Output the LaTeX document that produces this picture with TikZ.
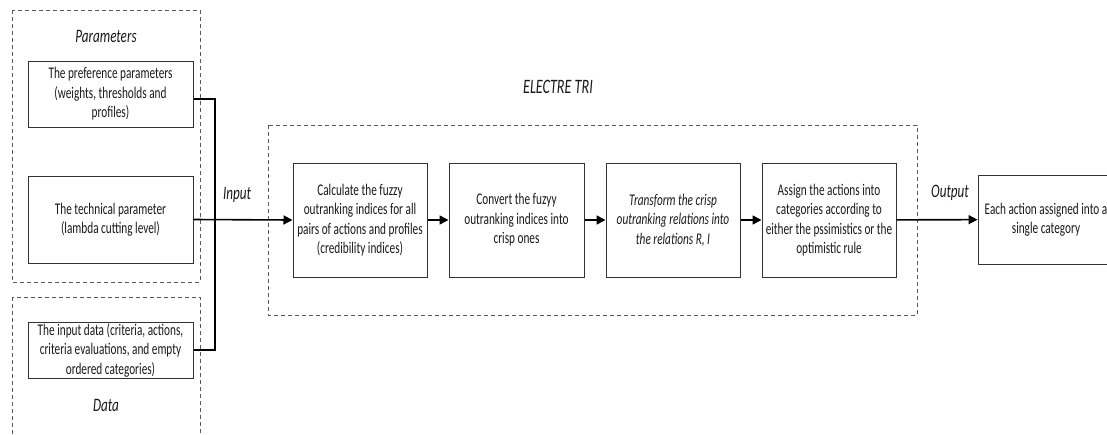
\documentclass[tikz,border=0pt]{standalone}
\usepackage{fontspec}
\setmainfont{Carlito}[FakeStretch=0.69]
\usetikzlibrary{arrows.meta}
\begin{document}
\begin{tikzpicture}[x=1pt,y=-1pt,
  stepbox/.style={draw=black!80, line width=1pt, align=center, inner sep=0pt,
    font=\fontsize{16.3}{19.5}\selectfont, text=black!90},
  group/.style={draw=black!65, dash pattern=on 4pt off 3pt, line width=0.8pt},
  lbl/.style={font=\fontsize{19}{22}\selectfont\itshape, text=black!90},
  flow/.style={line width=1.6pt, -{Triangle[length=9pt,width=9pt]}},
  link/.style={line width=1.6pt}]
\useasboundingbox (0,0) rectangle (1107,434);
\clip (0,0) rectangle (1107,434);
% groups
\draw[group] (12,10) rectangle (200,282);
\draw[group] (12,297) rectangle (200,460);
\draw[group] (268,125) rectangle (917,315);
% labels
\node[lbl] (plbl) at (106,36) {Parameters};
\node[lbl] (dlbl) at (106,405) {Data};
\node[lbl, font=\fontsize{20.5}{24}\selectfont\itshape] (elbl) at (558,87) {ELECTRE TRI};
\node[lbl] (inlbl) at (237,195) {Input};
\node[lbl] (outlbl) at (950,193) {Output};
% left boxes
\node[stepbox, minimum width=165pt, minimum height=66pt] (pref) at (110.5,94)
  {The preference parameters\\(weights, thresholds and\\profiles)};
\node[stepbox, minimum width=165pt, minimum height=87pt] (tech) at (110.5,219.5)
  {The technical parameter\\(lambda cutting level)};
\node[stepbox, minimum width=165pt, minimum height=56pt] (data) at (110.5,350)
  {The input data (criteria, actions,\\criteria evaluations, and empty\\ordered categories)};
% process boxes
\node[stepbox, minimum width=134pt, minimum height=114pt] (calc) at (360,220)
  {Calculate the fuzzy\\outranking indices for all\\pairs of actions and profiles\\(credibility indices)};
\node[stepbox, minimum width=135pt, minimum height=114pt] (conv) at (516.5,220)
  {Convert the fuzyy\\outranking indices into\\crisp ones};
\node[stepbox, minimum width=134pt, minimum height=114pt, font=\fontsize{16.3}{19.5}\selectfont\itshape] (trans) at (673,220)
  {Transform the crisp\\outranking relations into\\the relations R, I};
\node[stepbox, minimum width=134pt, minimum height=114pt] (assign) at (829,220)
  {Assign the actions into\\categories according to\\either the pssimistics or the\\optimistic rule};
\node[stepbox, minimum width=136pt, minimum height=89pt] (out) at (1046,219.5)
  {Each action assigned into a\\single category};
% connectors
\coordinate (trunk) at (215,219.5);
\draw[link] ([yshift=-5pt]pref.east) -| (trunk |- data.east) -- (data.east);
\draw[flow] (tech.east) -- (calc.west);
\draw[flow] (calc) -- (conv);
\draw[flow] (conv) -- (trans);
\draw[flow] (trans) -- (assign);
\draw[flow] (assign) -- (out);
\end{tikzpicture}
\end{document}
